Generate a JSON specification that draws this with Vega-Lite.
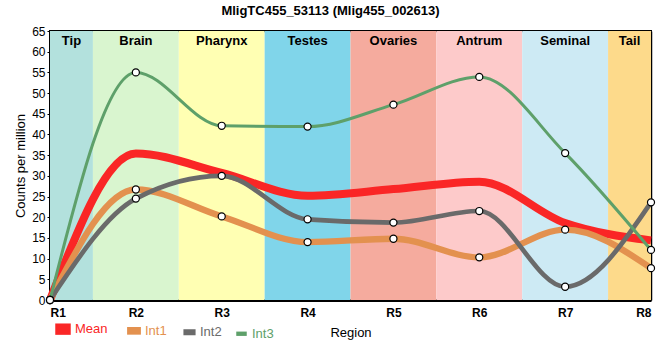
{
  "$schema": "https://vega.github.io/schema/vega-lite/v6.json",
  "width": 601,
  "height": 269,
  "autosize": {"type": "none"},
  "padding": {"left": 50, "top": 31, "right": 9, "bottom": 60},
  "background": "white",
  "title": {"text": "MligTC455_53113 (Mlig455_002613)", "fontSize": 13, "fontWeight": "bold", "font": "Liberation Sans", "anchor": "middle", "dx": -20, "offset": 7, "color": "#000"},
  "config": {
    "font": "Liberation Sans",
    "view": {"stroke": "#000", "strokeWidth": 2},
    "axis": {"zindex": 1, "gridColor": "#c8c8c8", "gridWidth": 1, "domainColor": "#000", "labelColor": "#000", "titleColor": "#000", "labelFont": "Liberation Sans", "titleFont": "Liberation Sans", "titleFontWeight": "normal"}
  },
  "resolve": {"axis": {"x": "independent", "y": "independent"}},
  "datasets": {
    "series": [
      {"region": 1, "series": "Mean", "value": 0},
      {"region": 2, "series": "Mean", "value": 35.4},
      {"region": 3, "series": "Mean", "value": 30.7},
      {"region": 4, "series": "Mean", "value": 25.2},
      {"region": 5, "series": "Mean", "value": 26.8},
      {"region": 6, "series": "Mean", "value": 28.6},
      {"region": 7, "series": "Mean", "value": 18.6},
      {"region": 8, "series": "Mean", "value": 14.4},
      {"region": 1, "series": "Int1", "value": 0},
      {"region": 2, "series": "Int1", "value": 26.7},
      {"region": 3, "series": "Int1", "value": 20.2},
      {"region": 4, "series": "Int1", "value": 14.0},
      {"region": 5, "series": "Int1", "value": 14.8},
      {"region": 6, "series": "Int1", "value": 10.3},
      {"region": 7, "series": "Int1", "value": 17.0},
      {"region": 8, "series": "Int1", "value": 7.7},
      {"region": 1, "series": "Int2", "value": 0},
      {"region": 2, "series": "Int2", "value": 24.5},
      {"region": 3, "series": "Int2", "value": 30.0},
      {"region": 4, "series": "Int2", "value": 19.5},
      {"region": 5, "series": "Int2", "value": 18.7},
      {"region": 6, "series": "Int2", "value": 21.5},
      {"region": 7, "series": "Int2", "value": 3.2},
      {"region": 8, "series": "Int2", "value": 23.6},
      {"region": 1, "series": "Int3", "value": 0},
      {"region": 2, "series": "Int3", "value": 55.0},
      {"region": 3, "series": "Int3", "value": 42.1},
      {"region": 4, "series": "Int3", "value": 41.9},
      {"region": 5, "series": "Int3", "value": 47.2},
      {"region": 6, "series": "Int3", "value": 53.9},
      {"region": 7, "series": "Int3", "value": 35.5},
      {"region": 8, "series": "Int3", "value": 12.1}
    ],
    "bands": [
      {"tissue": "Tip", "start": 1, "end": 1.5},
      {"tissue": "Brain", "start": 1.5, "end": 2.5},
      {"tissue": "Pharynx", "start": 2.5, "end": 3.5},
      {"tissue": "Testes", "start": 3.5, "end": 4.5},
      {"tissue": "Ovaries", "start": 4.5, "end": 5.5},
      {"tissue": "Antrum", "start": 5.5, "end": 6.5},
      {"tissue": "Seminal", "start": 6.5, "end": 7.5},
      {"tissue": "Tail", "start": 7.5, "end": 8}
    ]
  },
  "layer": [
    {
      "data": {"name": "bands"},
      "mark": {"type": "rect"},
      "encoding": {
        "x": {"field": "start", "type": "quantitative", "scale": {"domain": [1, 8], "nice": false, "zero": false},
          "axis": {"orient": "bottom", "values": [1, 2, 3, 4, 5, 6, 7, 8], "labelExpr": "'R' + datum.value", "title": "Region", "labelFontSize": 12, "labelFontWeight": "bold", "labelPadding": 7, "ticks": false, "titleFontSize": 13, "titlePadding": 8, "domainWidth": 3}},
        "x2": {"field": "end"},
        "fill": {"field": "tissue", "type": "nominal", "legend": null,
          "scale": {"domain": ["Tip", "Brain", "Pharynx", "Testes", "Ovaries", "Antrum", "Seminal", "Tail"],
            "range": ["#b3e1dd", "#d9f5cf", "#ffffb3", "#80d5ea", "#f5ab9e", "#fdcaca", "#cdeaf4", "#fdda8b"]}}
      }
    },
    {
      "data": {"name": "bands"},
      "transform": [{"calculate": "(datum.start + datum.end) / 2", "as": "mid"}],
      "mark": {"type": "text", "fontSize": 13, "fontWeight": "bold", "font": "Liberation Sans", "color": "#000", "baseline": "middle"},
      "encoding": {
        "x": {"field": "mid", "type": "quantitative", "axis": {"orient": "top", "labels": false, "ticks": false, "grid": false, "title": null, "domainWidth": 1.5, "minExtent": 0, "maxExtent": 0}},
        "y": {"datum": 62.5, "type": "quantitative", "scale": {"domain": [0, 65], "nice": false},
          "axis": {"orient": "left", "values": [0, 5, 10, 15, 20, 25, 30, 35, 40, 45, 50, 55, 60, 65], "labelOverlap": false, "title": "Counts per million", "labelFontSize": 12, "tickSize": 3, "tickColor": "#000", "labelPadding": 2, "titleFontSize": 13, "titlePadding": 4, "domainWidth": 3}},
        "text": {"field": "tissue"}
      }
    },
    {
      "data": {"name": "series"},
      "mark": {"type": "line", "interpolate": "monotone"},
      "encoding": {
        "x": {"field": "region", "type": "quantitative", "axis": null},
        "y": {"field": "value", "type": "quantitative", "axis": {"orient": "right", "labels": false, "ticks": false, "grid": false, "title": null, "domainWidth": 1.5, "minExtent": 0, "maxExtent": 0}},
        "color": {"field": "series", "type": "nominal",
          "scale": {"domain": ["Mean", "Int1", "Int2", "Int3"], "range": ["#fa2626", "#e3914f", "#6a6a6a", "#5ea06a"]},
          "legend": {"orient": "none", "legendX": 5, "legendY": 290, "direction": "horizontal", "title": null, "symbolType": "square", "symbolSize": 56, "labelFontSize": 13, "labelOffset": 4, "columnPadding": 9, "padding": 0,
            "encode": {
              "labels": {"update": {"fill": {"scale": "color", "field": "value"}}},
              "symbols": {"update": {
                "shape": {"signal": "datum.value === 'Mean' ? 'M-1,-0.45H1V0.45H-1Z' : 'M-1,-0.18H1V0.18H-1Z'"},
                "fill": {"scale": "color", "field": "value"},
                "stroke": {"value": "transparent"},
                "strokeWidth": {"value": 0},
                "opacity": {"value": 1}
              }}
            }}},
        "strokeWidth": {"field": "series", "type": "nominal", "legend": null, "scale": {"domain": ["Mean", "Int1", "Int2", "Int3"], "range": [8, 3, 3, 3]}}
      }
    },
    {
      "data": {"name": "series"},
      "transform": [{"filter": "datum.series != 'Mean'"}],
      "mark": {"type": "point", "shape": "circle", "filled": false, "fill": "white", "stroke": "#000", "strokeWidth": 1.2, "size": 50, "opacity": 1},
      "encoding": {
        "x": {"field": "region", "type": "quantitative", "axis": null},
        "y": {"field": "value", "type": "quantitative", "axis": null}
      }
    }
  ]
}
